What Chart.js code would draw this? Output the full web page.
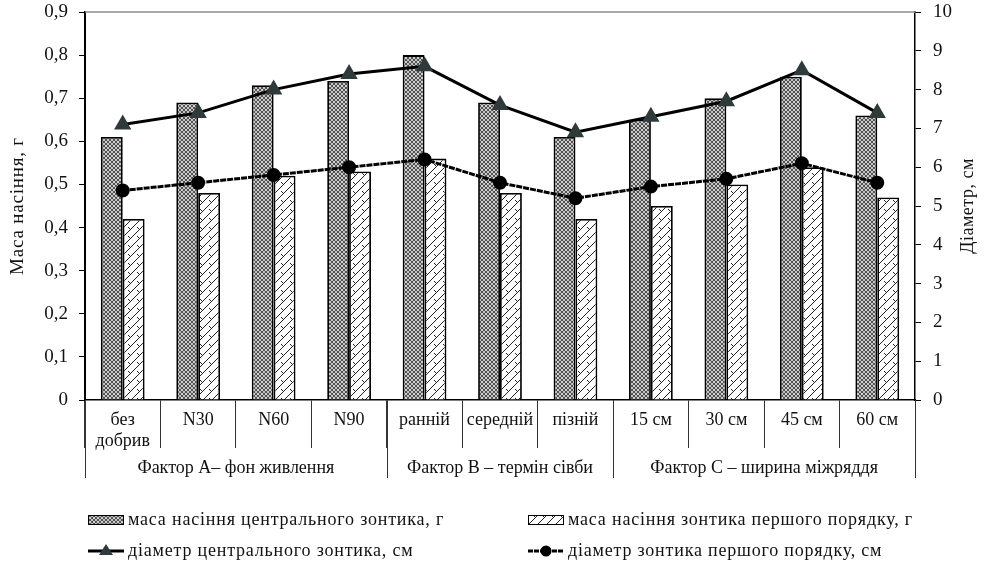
<!DOCTYPE html>
<html>
<head>
<meta charset="utf-8">
<script src="https://cdn.jsdelivr.net/npm/chart.js@4"></script>
<style>
  body { margin: 0; background: #fff; }
  #wrap { width: 988px; height: 564px; position: relative; }
</style>
</head>
<body>
<div id="wrap"><canvas id="myChart"></canvas></div>
<script>
// categorias e valores
const categorias = [['без', 'добрив'], 'N30', 'N60', 'N90', 'ранній', 'середній', 'пізній', '15 см', '30 см', '45 см', '60 см'];
const grupos = ['Фактор А– фон живлення', 'Фактор В – термін сівби', 'Фактор С – ширина міжряддя'];
const tamanhoGrupos = [4, 3, 4];

const masaCentral = [0.61, 0.69, 0.73, 0.74, 0.80, 0.69, 0.61, 0.65, 0.70, 0.75, 0.66];
const masaPershogo = [0.42, 0.48, 0.52, 0.53, 0.56, 0.48, 0.42, 0.45, 0.50, 0.54, 0.47];
const diamCentral = [7.1, 7.4, 8.0, 8.4, 8.6, 7.6, 6.9, 7.3, 7.7, 8.5, 7.4];
const diamPershogo = [5.4, 5.6, 5.8, 6.0, 6.2, 5.6, 5.2, 5.5, 5.7, 6.1, 5.6];

const nomes = [
  'маса насіння центрального зонтика, г',
  'маса насіння зонтика першого порядку, г',
  'діаметр центрального зонтика, см',
  'діаметр зонтика першого порядку, см'
];

const FONTE = '"Liberation Serif", "Times New Roman", serif';

// textura dos pilares
function padraoCentral() {
  const c = document.createElement('canvas');
  c.width = 4; c.height = 4;
  const g = c.getContext('2d');
  g.fillStyle = '#e6e6e6';
  g.fillRect(0, 0, 4, 4);
  g.strokeStyle = '#4a4a4a';
  g.lineWidth = 1;
  g.beginPath();
  g.arc(2, 2, 1.6, 0, Math.PI * 2);
  g.stroke();
  return g.createPattern(c, 'repeat');
}

function padraoPershogo() {
  const c = document.createElement('canvas');
  c.width = 9; c.height = 9;
  const g = c.getContext('2d');
  g.fillStyle = '#fff';
  g.fillRect(0, 0, 9, 9);
  g.strokeStyle = '#222';
  g.lineWidth = 1;
  g.beginPath();
  g.moveTo(0, 9); g.lineTo(9, 0);
  g.moveTo(2, 2); g.lineTo(5, 5);
  g.stroke();
  return g.createPattern(c, 'repeat');
}

const pCentral = padraoCentral();
const pPershogo = padraoPershogo();

// desenha grupos, linha superior, titulos e legenda
const extras = {
  id: 'extras',
  afterDraw(chart) {
    const ctx = chart.ctx;
    const area = chart.chartArea;
    const passo = (area.right - area.left) / categorias.length;
    const meioY = (area.top + area.bottom) / 2;

    ctx.save();
    // linha superior cinza
    ctx.strokeStyle = '#8c8c8c';
    ctx.lineWidth = 1.5;
    ctx.beginPath();
    ctx.moveTo(area.left, area.top);
    ctx.lineTo(area.right, area.top);
    ctx.stroke();

    // separadores dos grupos
    ctx.strokeStyle = '#333';
    ctx.lineWidth = 1;
    let idx = 0;
    const limites = [0];
    for (let i = 0; i < tamanhoGrupos.length; i++) {
      idx += tamanhoGrupos[i];
      limites.push(idx);
    }
    limites.forEach(function (k) {
      const px = Math.round(area.left + k * passo) + 0.5;
      ctx.beginPath();
      ctx.moveTo(px, area.bottom);
      ctx.lineTo(px, area.bottom + 78);
      ctx.stroke();
    });

    ctx.fillStyle = '#111';
    ctx.font = '18px ' + FONTE;
    ctx.textAlign = 'center';
    ctx.textBaseline = 'middle';
    for (let i = 0; i < grupos.length; i++) {
      const cx = area.left + (limites[i] + limites[i + 1]) / 2 * passo;
      ctx.fillText(grupos[i], cx, area.bottom + 68);
    }

    // titulos dos eixos
    ctx.save();
    ctx.font = '19px ' + FONTE;
    ctx.letterSpacing = '0.8px';
    ctx.translate(18, meioY);
    ctx.rotate(-Math.PI / 2);
    ctx.fillText('Маса насіння, г', 0, 0);
    ctx.restore();

    ctx.save();
    ctx.font = '18px ' + FONTE;
    ctx.letterSpacing = '0.5px';
    ctx.translate(968, meioY);
    ctx.rotate(-Math.PI / 2);
    ctx.fillText('Діаметр, см', 0, 0);
    ctx.restore();

    // legenda
    const itens = [
      { x: 88, y: 520 }, { x: 528, y: 520 },
      { x: 88, y: 551 }, { x: 528, y: 551 }
    ];
    ctx.textAlign = 'left';
    ctx.font = '18px ' + FONTE;
    for (let i = 0; i < 4; i++) {
      const it = itens[i];
      if (i < 2) {
        ctx.fillStyle = i === 0 ? pCentral : pPershogo;
        ctx.fillRect(it.x, it.y - 5, 35, 10);
        ctx.strokeStyle = '#000';
        ctx.lineWidth = 1;
        ctx.strokeRect(it.x + 0.5, it.y - 4.5, 35, 9);
      } else {
        ctx.strokeStyle = '#000';
        ctx.lineWidth = 3;
        if (i === 3) ctx.setLineDash([5, 1]);
        ctx.beginPath();
        ctx.moveTo(it.x, it.y);
        ctx.lineTo(it.x + 36, it.y);
        ctx.stroke();
        ctx.setLineDash([]);
        ctx.fillStyle = i === 2 ? '#2f3a3a' : '#000';
        ctx.beginPath();
        if (i === 2) {
          ctx.moveTo(it.x + 18, it.y - 7);
          ctx.lineTo(it.x + 25, it.y + 4);
          ctx.lineTo(it.x + 11, it.y + 4);
          ctx.closePath();
        } else {
          ctx.arc(it.x + 18, it.y, 5.5, 0, Math.PI * 2);
        }
        ctx.fill();
      }
      ctx.fillStyle = '#111';
      ctx.letterSpacing = '0.8px';
      ctx.fillText(nomes[i], it.x + 40, it.y);
      ctx.letterSpacing = '0px';
    }
    ctx.restore();
  }
};

function semPadding(scale) {
  scale.paddingTop = 0;
  scale.paddingBottom = 0;
}

const ctx = document.getElementById('myChart');

new Chart(ctx, {
  type: 'bar',
  data: {
    labels: categorias,
    datasets: [
      {
        type: 'line',
        label: nomes[2],
        data: diamCentral,
        yAxisID: 'y1',
        borderColor: '#000',
        borderWidth: 3,
        pointStyle: 'triangle',
        pointRadius: 7,
        pointBackgroundColor: '#2f3a3a',
        pointBorderColor: '#2f3a3a',
        tension: 0,
        order: 0
      },
      {
        type: 'line',
        label: nomes[3],
        data: diamPershogo,
        yAxisID: 'y1',
        borderColor: '#000',
        borderWidth: 3,
        borderDash: [6, 1],
        pointStyle: 'circle',
        pointRadius: 5.5,
        pointBackgroundColor: '#000',
        pointBorderColor: '#000',
        tension: 0,
        order: 0
      },
      {
        label: nomes[0],
        data: masaCentral,
        yAxisID: 'y',
        backgroundColor: pCentral,
        borderColor: '#000',
        borderWidth: 1.8,
        categoryPercentage: 0.58,
        barPercentage: 1,
        order: 1
      },
      {
        label: nomes[1],
        data: masaPershogo,
        yAxisID: 'y',
        backgroundColor: pPershogo,
        borderColor: '#000',
        borderWidth: 1.8,
        categoryPercentage: 0.58,
        barPercentage: 1,
        order: 1
      }
    ]
  },
  options: {
    responsive: true,
    maintainAspectRatio: false,
    animation: false,
    layout: { padding: { top: 12, left: 0, right: 0, bottom: 0 } },
    plugins: {
      legend: { display: false },
      tooltip: { enabled: false }
    },
    scales: {
      x: {
        offset: true,
        grid: {
          display: true,
          drawOnChartArea: false,
          offset: true,
          tickLength: 48,
          color: '#333',
          lineWidth: 1
        },
        border: { display: true, color: '#000', width: 1.5 },
        ticks: {
          color: '#111',
          padding: -39,
          maxRotation: 0,
          autoSkip: false,
          font: { family: FONTE, size: 18 }
        },
        afterFit: function (scale) { scale.height = 164; }
      },
      y: {
        position: 'left',
        min: 0,
        max: 0.9,
        grid: { display: true, drawOnChartArea: false, tickLength: 6, color: '#000' },
        border: { display: true, color: '#000', width: 2 },
        ticks: {
          stepSize: 0.1,
          padding: 11,
          color: '#111',
          font: { family: FONTE, size: 19 },
          callback: function (v) {
            return v === 0 ? '0' : v.toFixed(1).replace('.', ',');
          }
        },
        afterFit: function (scale) { scale.width = 85; semPadding(scale); }
      },
      y1: {
        position: 'right',
        min: 0,
        max: 10,
        grid: { display: true, drawOnChartArea: false, tickLength: 6, color: '#000' },
        border: { display: true, color: '#000', width: 1.5 },
        ticks: {
          stepSize: 1,
          padding: 12,
          color: '#111',
          font: { family: FONTE, size: 19 }
        },
        afterFit: function (scale) { scale.width = 73; semPadding(scale); }
      }
    }
  },
  plugins: [extras]
});
</script>
</body>
</html>
